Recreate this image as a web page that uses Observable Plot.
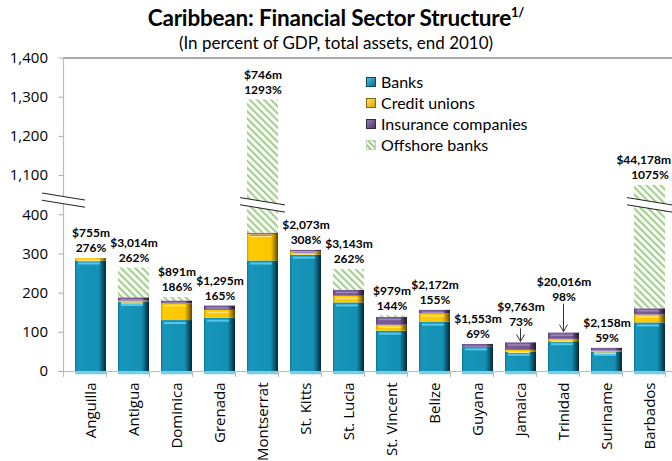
<!DOCTYPE html>
<html><head><meta charset="utf-8">
<script src="https://cdn.jsdelivr.net/npm/d3@7"></script>
<script src="https://cdn.jsdelivr.net/npm/@observablehq/plot@0.6"></script>
<style>
html,body{margin:0;padding:0;background:#fff;overflow:hidden;}
#wrap{position:relative;width:672px;height:461px;overflow:hidden;}
#chart{position:absolute;left:0;top:0;}
#title{position:absolute;left:0;top:4px;width:672px;text-align:center;font-family:Lato;font-weight:bold;font-size:22.5px;color:#000;letter-spacing:-0.2px;}
#title sup{font-size:13px;position:relative;top:-1px;}
#subtitle{position:absolute;left:0;top:32px;width:672px;text-align:center;font-family:Lato;font-size:17px;color:#000;}
#legend{position:absolute;left:366px;top:71px;font-family:Lato;font-size:16px;color:#000;}
.row{display:flex;align-items:center;height:21px;}
.row svg{margin-right:5px;}
</style></head>
<body>
<div id="wrap">
  <div id="chart"></div>
  <div id="title">Caribbean: Financial Sector Structure<sup>1/</sup></div>
  <div id="subtitle">(In percent of GDP, total assets, end 2010)</div>
  <div id="legend"></div>
</div>
<script>
// ---- data ----
const countries = ["Anguilla","Antigua","Dominica","Grenada","Montserrat","St. Kitts","St. Lucia","St. Vincent","Belize","Guyana","Jamaica","Trinidad","Suriname","Barbados"];
const banks        = [282, 176, 130, 136, 282, 297, 175, 103, 126, 63, 49, 76, 49, 124];
const creditUnions = [  6,   4,  43,  20,  68,   8,  17,  15,  21,  0,  5,  6,  3,  20];
const insurance    = [  0,   8,   7,  11,   3,   4,  15,  20,   9,  6, 19, 16,  7,  16];
const offshore     = [  0,  76,   9,   0, 940,   0,  53,   4,   0,  0,  0,  0,  0, 915];
const assetLabels  = ["$755m","$3,014m","$891m","$1,295m","$746m","$2,073m","$3,143m","$979m","$2,172m","$1,553m","$9,763m","$20,016m","$2,158m","$44,178m"];
const pctLabels    = [276, 262, 186, 165, 1293, 308, 262, 144, 155, 69, 73, 98, 59, 1075];
const seriesNames  = ["Banks","Credit unions","Insurance companies","Offshore banks"];
const tickValues   = [0, 100, 200, 300, 400, 1100, 1200, 1300, 1400];
const arrowed      = {"Jamaica": 11, "Trinidad": 26};

// ---- broken axis: values above the break are shifted down by the gap ----
const breakAt = 1000, gap = 600, axisBreak = 436, barBreak = 424;
const disp = v => v >= breakAt ? v - gap : v;

const seriesValues = [banks, creditUnions, insurance, offshore];
const seriesFill = ["url(#gBanks)","url(#gCredit)","url(#gIns)","url(#hatch)"];
const segments = [];
const totals = [];
countries.forEach((c, i) => {
  let cum = 0;
  seriesValues.forEach((arr, k) => {
    const v = arr[i];
    if (v > 0) {
      segments.push({country: c, series: k, y1: disp(cum), y2: disp(cum + v)});
      cum += v;
    }
  });
  totals.push({country: c, top: disp(cum), total: cum, assets: assetLabels[i], pct: pctLabels[i] + "%", lift: arrowed[c] || 0});
});

const liftGroups = [...new Set(totals.map(d => d.lift))];
const labelFont = {fontWeight: "bold", fontSize: 12, fontFamily: "Lato", className: "bar-label"};

const plot = Plot.plot({
  width: 672, height: 461,
  marginTop: 57.5, marginBottom: 90, marginLeft: 63.5, marginRight: -5,
  x: {domain: countries, paddingInner: 0.27, paddingOuter: 0.135, axis: null, label: null},
  y: {domain: [0, 800], axis: null, label: null},
  style: {fontFamily: "Open Sans", fontSize: "15px", color: "#000", background: "transparent", overflow: "visible"},
  marks: [
    Plot.ruleY([800], {stroke: "#555", strokeWidth: 1}),
    Plot.ruleY([0], {stroke: "#bbb", strokeWidth: 1.2}),
    Plot.tickY(countries, {x: d => d, y: 0, stroke: "#79cbe6", strokeWidth: 2.5, dy: 1.5}),
    ...seriesFill.map((f, k) => Plot.barY(segments.filter(d => d.series === k), {x: "country", y1: "y1", y2: "y2", fill: f})),
    Plot.tickY(segments.filter(d => d.series === 0), {x: "country", y: "y2", stroke: "#58c6ea", strokeWidth: 2, dy: 2.5, insetLeft: 3, insetRight: 6}),
    Plot.tickY(segments.filter(d => d.series === 1), {x: "country", y: "y2", stroke: "#ffe27a", strokeWidth: 1.5, dy: 2, insetLeft: 3, insetRight: 6}),
    Plot.tickY(segments.filter(d => d.series === 2), {x: "country", y: "y2", stroke: "#9f86bb", strokeWidth: 1.5, dy: 2, insetLeft: 3, insetRight: 6}),
    ...liftGroups.flatMap(l => [
      Plot.text(totals.filter(d => d.lift === l), {x: "country", y: "top", text: "assets", dy: -(25 + l), ...labelFont}),
      Plot.text(totals.filter(d => d.lift === l), {x: "country", y: "top", text: "pct", dy: -(10 + l), ...labelFont})
    ]),
    Plot.axisY(tickValues.map(disp), {tickFormat: (d, i) => d3.format(",")(tickValues[i]), tickSize: 5, tickPadding: 11, stroke: "#aaa", fontSize: 15, label: null}),
    Plot.axisX({tickSize: 0, tickRotate: -90, tickPadding: 11, fontSize: 15, label: null})
  ]
});
document.getElementById("chart").appendChild(plot);

// keep bar labels inside the visible page
plot.querySelectorAll(".bar-label text").forEach(t => {
  const b = t.getBoundingClientRect();
  const over = b.right - 671;
  if (over > 0) t.setAttribute("dx", -over);
});

// ---- defs: gradients and hatch ----
const NS = "http://www.w3.org/2000/svg";
const defs = document.createElementNS(NS, "defs");
defs.innerHTML = `
<linearGradient id="gBanks" x1="0" x2="1" y1="0" y2="0">
 <stop offset="0" stop-color="#0c6f8c"/><stop offset="0.06" stop-color="#1896bb"/>
 <stop offset="0.76" stop-color="#1390b3"/><stop offset="0.88" stop-color="#0b5e77"/><stop offset="1" stop-color="#052631"/>
</linearGradient>
<linearGradient id="gCredit" x1="0" x2="1" y1="0" y2="0">
 <stop offset="0" stop-color="#c99b00"/><stop offset="0.06" stop-color="#ffcc00"/>
 <stop offset="0.76" stop-color="#fdc600"/><stop offset="0.88" stop-color="#b68a00"/><stop offset="1" stop-color="#5a4400"/>
</linearGradient>
<linearGradient id="gIns" x1="0" x2="1" y1="0" y2="0">
 <stop offset="0" stop-color="#56406e"/><stop offset="0.06" stop-color="#7a5c99"/>
 <stop offset="0.76" stop-color="#735693"/><stop offset="0.88" stop-color="#4a355f"/><stop offset="1" stop-color="#221829"/>
</linearGradient>
<pattern id="hatch" patternUnits="userSpaceOnUse" width="5" height="5" patternTransform="rotate(-45)">
 <rect width="5" height="5" fill="#ffffff"/><rect width="2.2" height="5" fill="#a3d08c"/>
</pattern>`;
plot.insertBefore(defs, plot.firstChild);

// ---- decorations using the plot's scales ----
const xs = plot.scale("x"), ys = plot.scale("y");
const bw = xs.bandwidth, step = xs.step;
const svg = d3.select(plot);
const left = xs.range[0];
const yTop = ys.apply(800), yBase = ys.apply(0);
// left axis line
svg.append("line").attr("x1", left).attr("x2", left).attr("y1", yTop).attr("y2", yBase).attr("stroke", "#bbb").attr("stroke-width", 1.2);
// category boundary ticks
countries.concat([null]).forEach((c, i) => {
  const x = left + i * step;
  svg.append("line").attr("x1", x).attr("x2", x).attr("y1", yBase).attr("y2", yBase + 6).attr("stroke", "#bbb");
});
// break marks
function drawBreak(xc, hw, yc) {
  const s = 7 / 43, h = 3.6;
  const y = (x, o) => yc + s * (x - xc) + o;
  const x0 = xc - hw, x1 = xc + hw;
  svg.append("polygon")
    .attr("points", [[x0, y(x0, -h)], [x1, y(x1, -h)], [x1, y(x1, h)], [x0, y(x0, h)]].map(p => p.join(",")).join(" "))
    .attr("fill", "#fff");
  [-h, h].forEach(o => svg.append("line").attr("x1", x0).attr("y1", y(x0, o)).attr("x2", x1).attr("y2", y(x1, o)).attr("stroke", "#222").attr("stroke-width", 1));
}
drawBreak(left, 21.5, ys.apply(axisBreak));
totals.filter(d => d.total >= breakAt).forEach(d => drawBreak(xs.apply(d.country) + bw / 2, bw / 2 + 7, ys.apply(barBreak)));
// arrows
totals.filter(d => d.lift > 0).forEach(d => {
  const cx = xs.apply(d.country) + bw / 2, yt = ys.apply(d.top);
  const ya = yt - d.lift - 3, yb = yt - 1;
  svg.append("line").attr("x1", cx).attr("x2", cx).attr("y1", ya).attr("y2", yb).attr("stroke", "#333");
  svg.append("path").attr("d", `M${cx - 4},${yb - 7}L${cx},${yb}L${cx + 4},${yb - 7}`).attr("fill", "none").attr("stroke", "#333");
});

// ---- legend ----
const legendSw = [
  `<rect x="0.5" y="0.5" width="9" height="9" fill="url(#lgBanks)" stroke="#0a4a5e"/>`,
  `<rect x="0.5" y="0.5" width="9" height="9" fill="url(#lgCredit)" stroke="#8a6a00"/>`,
  `<rect x="0.5" y="0.5" width="9" height="9" fill="url(#lgIns)" stroke="#3a2a4a"/>`,
  `<rect x="0.5" y="0.5" width="9" height="9" fill="url(#lhatch)" stroke="#bcd7b0"/>`
];
const legDefs = `<defs>
<linearGradient id="lgBanks" x1="0" x2="1" y1="0" y2="1"><stop offset="0" stop-color="#4fc0e0"/><stop offset="1" stop-color="#0c6f8c"/></linearGradient>
<linearGradient id="lgCredit" x1="0" x2="1" y1="0" y2="1"><stop offset="0" stop-color="#ffe066"/><stop offset="1" stop-color="#d9a600"/></linearGradient>
<linearGradient id="lgIns" x1="0" x2="1" y1="0" y2="1"><stop offset="0" stop-color="#9a80b8"/><stop offset="1" stop-color="#4a355f"/></linearGradient>
<pattern id="lhatch" patternUnits="userSpaceOnUse" width="4" height="4" patternTransform="rotate(-45)"><rect width="4" height="4" fill="#fff"/><rect width="1.8" height="4" fill="#8fc27a"/></pattern>
</defs>`;
document.getElementById("legend").innerHTML = seriesNames.map((n, k) =>
  `<div class="row"><svg width="10" height="10">${k === 0 ? legDefs : ""}${legendSw[k]}</svg><span>${n}</span></div>`).join("");
</script>
</body></html>
